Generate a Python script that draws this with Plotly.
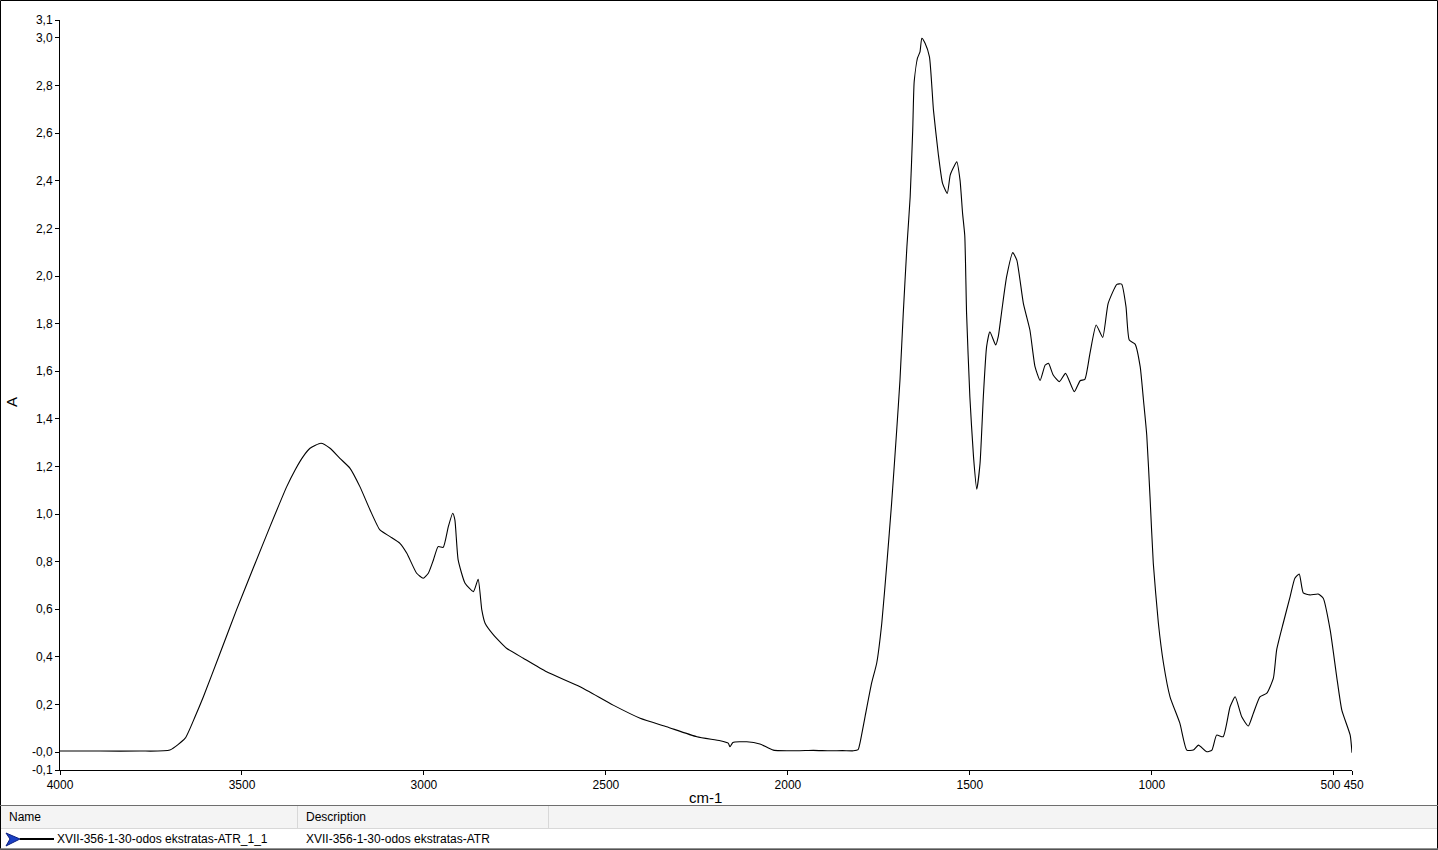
import plotly.graph_objects as go

# ---- data ----
wavenumber = [
    4000, 3890, 3780, 3698, 3656, 3629, 3606, 3560, 3515, 3469,
    3423, 3377, 3354, 3332, 3313, 3283, 3258, 3231, 3203, 3176,
    3148, 3121, 3093, 3066, 3047, 3020, 3002, 2988, 2974, 2961,
    2947, 2933, 2921, 2915, 2906, 2887, 2864, 2851, 2841, 2832,
    2809, 2791, 2773, 2727, 2663, 2571, 2480, 2406, 2333, 2250,
    2186, 2164, 2159, 2151, 2113, 2077, 2040, 1976, 1930, 1884,
    1850, 1820, 1807, 1802, 1788, 1770, 1756, 1742, 1728, 1715,
    1701, 1692, 1683, 1673, 1664, 1657, 1653, 1644, 1637, 1632,
    1623, 1611, 1600, 1587, 1575, 1562, 1554, 1544, 1536, 1527,
    1520, 1514, 1509, 1500, 1490, 1481, 1472, 1463, 1454, 1445,
    1429, 1422, 1412, 1399, 1382, 1371, 1353, 1335, 1321, 1307,
    1293, 1284, 1271, 1254, 1237, 1213, 1197, 1184, 1170, 1153,
    1135, 1120, 1096, 1083, 1071, 1062, 1046, 1032, 1023, 1014,
    1005, 996, 982, 968, 950, 923, 904, 886, 872, 849,
    835, 822, 804, 785, 771, 753, 735, 721, 703, 684,
    666, 657, 639, 620, 607, 595, 584, 565, 543, 529,
    510, 492, 478, 455, 450,
]
absorbance = [
    0.004, 0.004, 0.004, 0.008, 0.058, 0.148, 0.232, 0.416, 0.597, 0.773,
    0.947, 1.115, 1.185, 1.241, 1.276, 1.297, 1.276, 1.234, 1.192, 1.115,
    1.017, 0.933, 0.905, 0.877, 0.835, 0.751, 0.730, 0.751, 0.807, 0.863,
    0.860, 0.947, 1.003, 0.975, 0.807, 0.709, 0.674, 0.726, 0.597, 0.541,
    0.492, 0.463, 0.436, 0.394, 0.337, 0.274, 0.197, 0.142, 0.106, 0.064,
    0.047, 0.037, 0.022, 0.040, 0.043, 0.034, 0.008, 0.005, 0.007, 0.005,
    0.006, 0.005, 0.010, 0.037, 0.148, 0.289, 0.373, 0.541, 0.793, 1.045,
    1.353, 1.563, 1.843, 2.123, 2.333, 2.613, 2.816, 2.915, 2.942, 2.999,
    2.978, 2.921, 2.697, 2.516, 2.389, 2.347, 2.424, 2.459, 2.480, 2.403,
    2.263, 2.170, 1.843, 1.493, 1.241, 1.104, 1.213, 1.493, 1.703, 1.766,
    1.710, 1.745, 1.857, 1.997, 2.098, 2.067, 1.885, 1.773, 1.619, 1.561,
    1.626, 1.633, 1.584, 1.556, 1.591, 1.514, 1.560, 1.566, 1.675, 1.794,
    1.742, 1.885, 1.965, 1.966, 1.871, 1.731, 1.714, 1.619, 1.479, 1.332,
    1.073, 0.793, 0.541, 0.373, 0.232, 0.121, 0.008, 0.008, 0.029, 0.001,
    0.008, 0.071, 0.064, 0.190, 0.232, 0.148, 0.109, 0.163, 0.232, 0.247,
    0.310, 0.429, 0.541, 0.653, 0.730, 0.748, 0.669, 0.660, 0.664, 0.646,
    0.513, 0.316, 0.176, 0.071, -0.003,
]

x_tick_vals = [4000, 3500, 3000, 2500, 2000, 1500, 1000, 500, 450]
x_tick_text = ["4000", "3500", "3000", "2500", "2000", "1500", "1000",
               "500\u00a0\u00a0", "\u00a0450"]
y_min, y_max = -0.0756, 3.0756
y_tick_vals = [y_min, 0.0, 0.2, 0.4, 0.6, 0.8, 1.0, 1.2, 1.4, 1.6, 1.8,
               2.0, 2.2, 2.4, 2.6, 2.8, 3.0, y_max]
y_tick_text = ["-0,1", "-0,0", "0,2", "0,4", "0,6", "0,8", "1,0", "1,2", "1,4",
               "1,6", "1,8", "2,0", "2,2", "2,4", "2,6", "2,8", "3,0", "3,1"]

series_name = "XVII-356-1-30-odos ekstratas-ATR_1_1"
series_desc = "XVII-356-1-30-odos ekstratas-ATR"

# ---- layout geometry (pixels) ----
W, H = 1438, 850
L, R, T, B = 60, 1352, 20, 770


def fx(px):
    return (px - L) / (R - L)


def fy(py):
    return (B - py) / (B - T)


FONT = "Liberation Sans, Arial, sans-serif"

fig = go.Figure()
fig.add_trace(go.Scatter(
    x=wavenumber, y=absorbance, mode="lines",
    line=dict(color="black", width=1.1, shape="spline", smoothing=0.5),
    hoverinfo="x+y", showlegend=False,
))

shapes = []
# outer frame
shapes.append(dict(type="rect", xref="paper", yref="paper",
                   x0=fx(0.5), x1=fx(1437.5), y0=fy(0.5), y1=fy(849.5),
                   line=dict(color="black", width=1), fillcolor="rgba(0,0,0,0)",
                   layer="above"))
# table header background
shapes.append(dict(type="rect", xref="paper", yref="paper",
                   x0=fx(1), x1=fx(1437), y0=fy(806), y1=fy(828),
                   line=dict(width=0), fillcolor="#f4f4f4", layer="below"))
# table lines
shapes.append(dict(type="line", xref="paper", yref="paper",
                   x0=fx(0), x1=fx(1438), y0=fy(805.5), y1=fy(805.5),
                   line=dict(color="#6e6e6e", width=1)))
shapes.append(dict(type="line", xref="paper", yref="paper",
                   x0=fx(1), x1=fx(1437), y0=fy(828.5), y1=fy(828.5),
                   line=dict(color="#d8d8d8", width=1)))
shapes.append(dict(type="line", xref="paper", yref="paper",
                   x0=fx(0), x1=fx(1438), y0=fy(849), y1=fy(849),
                   line=dict(color="#6e6e6e", width=1.5)))
for vx in (297.5, 548.5):
    shapes.append(dict(type="line", xref="paper", yref="paper",
                       x0=fx(vx), x1=fx(vx), y0=fy(806), y1=fy(828),
                       line=dict(color="#d8d8d8", width=1)))
# legend line sample
shapes.append(dict(type="line", xref="paper", yref="paper",
                   x0=fx(20), x1=fx(54), y0=fy(839), y1=fy(839),
                   line=dict(color="black", width=2)))
# blue arrow icon
arrow_pts = [(6, 833), (20, 839), (6, 846), (10, 839)]
path = "M " + " L ".join(f"{fx(a):.5f},{fy(b):.5f}" for a, b in arrow_pts) + " Z"
shapes.append(dict(type="path", xref="paper", yref="paper", path=path,
                   fillcolor="#1a3fc4", line=dict(color="#0b1f80", width=1)))

annotations = [
    dict(text="cm-1", xref="paper", yref="paper", x=fx(705), y=fy(797),
         xanchor="center", yanchor="middle", showarrow=False,
         font=dict(family=FONT, size=15, color="black")),
    dict(text="A", xref="paper", yref="paper", x=fx(11), y=fy(402),
         xanchor="center", yanchor="middle", showarrow=False, textangle=-90,
         font=dict(family=FONT, size=15, color="black")),
    dict(text="Name", xref="paper", yref="paper", x=fx(7), y=fy(817),
         xanchor="left", yanchor="middle", showarrow=False,
         font=dict(family=FONT, size=12, color="black")),
    dict(text="Description", xref="paper", yref="paper", x=fx(304), y=fy(817),
         xanchor="left", yanchor="middle", showarrow=False,
         font=dict(family=FONT, size=12, color="black")),
    dict(text=series_name, xref="paper", yref="paper", x=fx(55), y=fy(839),
         xanchor="left", yanchor="middle", showarrow=False,
         font=dict(family=FONT, size=12, color="black")),
    dict(text=series_desc, xref="paper", yref="paper", x=fx(304), y=fy(839),
         xanchor="left", yanchor="middle", showarrow=False,
         font=dict(family=FONT, size=12, color="black")),
]

fig.update_layout(
    width=W, height=H,
    margin=dict(l=L, r=W - R, t=T, b=H - B, pad=0),
    paper_bgcolor="white", plot_bgcolor="white",
    font=dict(family=FONT, size=12, color="black"),
    showlegend=False,
    shapes=shapes,
    annotations=annotations,
    xaxis=dict(range=[4000, 450], tickmode="array", tickvals=x_tick_vals,
               ticktext=x_tick_text, showline=True, linecolor="black",
               linewidth=1, ticks="outside", ticklen=4, tickcolor="black",
               tickangle=0, showgrid=False, zeroline=False, mirror=False,
               tickfont=dict(family=FONT, size=12, color="black")),
    yaxis=dict(range=[y_min, y_max], tickmode="array", tickvals=y_tick_vals,
               ticktext=y_tick_text, showline=True, linecolor="black",
               linewidth=1, ticks="outside", ticklen=4, tickcolor="black",
               showgrid=False, zeroline=False, mirror=False,
               tickfont=dict(family=FONT, size=12, color="black")),
)

fig.write_html(
    "out.html",
    config={"displayModeBar": False},
    post_script="document.body.style.margin='0';document.body.style.padding='0';"
                "document.body.style.overflow='hidden';",
)
